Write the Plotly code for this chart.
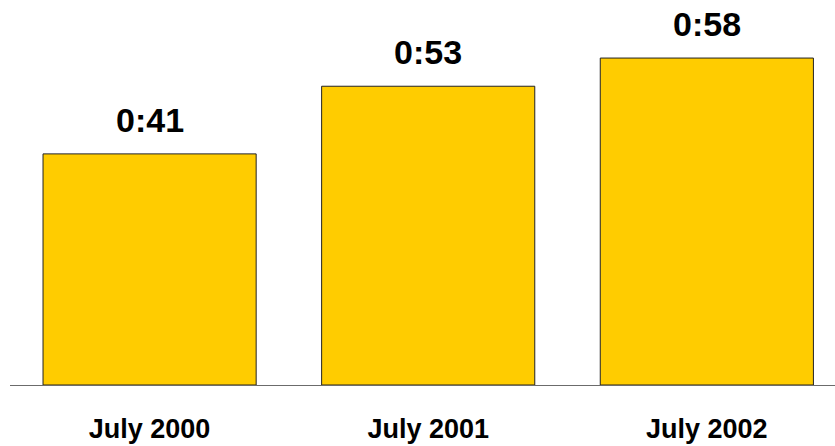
import plotly.graph_objects as go

categories = ["July 2000", "July 2001", "July 2002"]
minutes = [41, 53, 58]
labels = ["0:41", "0:53", "0:58"]

fig = go.Figure()
fig.add_trace(go.Bar(
    x=[0, 1, 2], y=minutes,
    marker=dict(color="#FFCC00", line=dict(color="#222222", width=1)),
    width=0.765,
    hoverinfo="skip",
))

for i, (v, t) in enumerate(zip(minutes, labels)):
    fig.add_annotation(x=i, y=v, text="<b>%s</b>" % t, showarrow=False, yanchor="bottom",
                       yshift=13, font=dict(family="Liberation Sans, Arial", size=34, color="#000000"))

fig.update_layout(
    width=835, height=446,
    margin=dict(l=10, r=0, t=0, b=61, autoexpand=False),
    paper_bgcolor="white", plot_bgcolor="white",
    showlegend=False,
    font=dict(family="Liberation Sans, Arial", color="#000000"),
    xaxis=dict(
        range=[-0.501, 2.46],
        tickmode="array", tickvals=[0, 1, 2],
        ticktext=["<b>%s</b>" % c for c in categories],
        tickfont=dict(size=27, color="#000000"),
        showline=True, linecolor="#6b6b6b", linewidth=1,
        ticks="", showgrid=False, zeroline=False,
        ticklabelstandoff=20,
        automargin=False,
        fixedrange=True,
    ),
    yaxis=dict(range=[0, 68.3], visible=False, showgrid=False, zeroline=False, fixedrange=True),
)

fig.write_html("out.html", config={"displayModeBar": False},
               post_script="document.body.style.margin='0';document.body.style.padding='0';")
